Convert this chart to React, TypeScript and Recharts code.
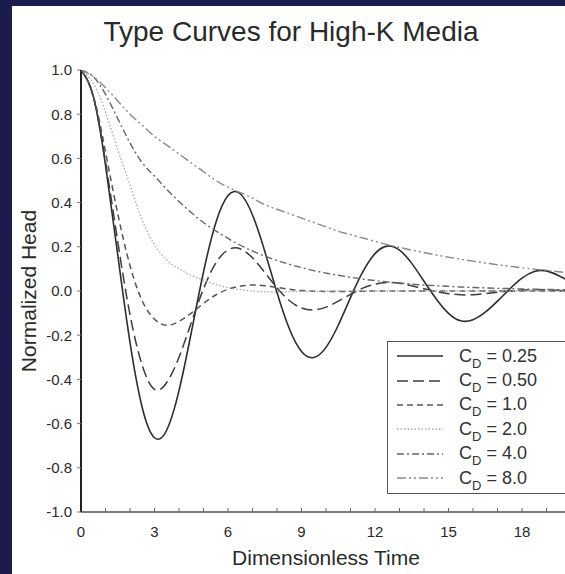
import { LineChart, Line, XAxis, YAxis, Legend } from 'recharts';

// dimensionless time, step 0.5
const time = [
  0, 0.5, 1, 1.5, 2, 2.5, 3, 3.5, 4, 4.5, 5, 5.5, 6, 6.5, 7, 7.5, 8, 8.5, 9, 9.5, 10,
  10.5, 11, 11.5, 12, 12.5, 13, 13.5, 14, 14.5, 15, 15.5, 16, 16.5, 17, 17.5, 18, 18.5, 19, 19.5, 20,
];

// normalized head, one list per C_D
const cd025 = [
  1.0, 0.881, 0.57, 0.163, -0.233, -0.528, -0.664, -0.629, -0.451, -0.189, 0.086, 0.308, 0.432, 0.44,
  0.344, 0.18, -0.007, -0.17, -0.274, -0.301, -0.255, -0.155, -0.03, 0.086, 0.169, 0.203, 0.185, 0.125,
  0.044, -0.036, -0.101, -0.135, -0.13, -0.096, -0.046, 0.009, 0.058, 0.088, 0.091, 0.069, 0.041,
];
const cd050 = [
  1.0, 0.88, 0.585, 0.223, -0.107, -0.337, -0.445, -0.414, -0.3, -0.144, 0.01, 0.126, 0.186, 0.191,
  0.15, 0.084, 0.014, -0.043, -0.077, -0.086, -0.073, -0.046, -0.015, 0.013, 0.031, 0.038, 0.035, 0.024,
  0.01, -0.002, -0.012, -0.017, -0.017, -0.012, -0.006, 0.0, 0.004, 0.006, 0.005, 0.003, 0.001,
];
const cd100 = [
  1.0, 0.885, 0.63, 0.35, 0.115, -0.045, -0.128, -0.155, -0.138, -0.1, -0.056, -0.018, 0.008, 0.022,
  0.027, 0.024, 0.016, 0.008, 0.002, -0.001, -0.002, -0.002, -0.002, -0.001, 0, 0, 0, 0,
  0, 0, 0, 0, 0, 0, 0, 0, 0, 0, 0, 0, 0,
];
const cd200 = [
  1.0, 0.94, 0.81, 0.64, 0.48, 0.32, 0.21, 0.14, 0.1, 0.07, 0.05, 0.03, 0.015, 0.006,
  0.0, -0.003, -0.004, -0.003, -0.002, -0.001, 0, 0, 0, 0, 0, 0, 0, 0,
  0, 0, 0, 0, 0, 0, 0, 0, 0, 0, 0, 0, 0,
];
const cd400 = [
  1.0, 0.97, 0.89, 0.78, 0.67, 0.58, 0.52, 0.46, 0.405, 0.355, 0.31, 0.272, 0.238, 0.207,
  0.181, 0.158, 0.138, 0.121, 0.106, 0.092, 0.081, 0.071, 0.062, 0.054, 0.047, 0.041, 0.036, 0.031,
  0.027, 0.024, 0.021, 0.018, 0.016, 0.014, 0.012, 0.011, 0.009, 0.008, 0.007, 0.006, 0.005,
];
const cd800 = [
  1.0, 0.97, 0.92, 0.86, 0.8, 0.75, 0.7, 0.66, 0.62, 0.58, 0.54, 0.5, 0.47, 0.445,
  0.42, 0.39, 0.37, 0.35, 0.33, 0.31, 0.29, 0.27, 0.255, 0.24, 0.225, 0.21, 0.197, 0.185,
  0.174, 0.163, 0.153, 0.144, 0.135, 0.127, 0.119, 0.112, 0.105, 0.099, 0.093, 0.087, 0.082,
];

const cdLabels = ['0.25', '0.50', '1.0', '2.0', '4.0', '8.0'];

const xTicks = [0, 3, 6, 9, 12, 15, 18];
const xMinorTicks = [0, 1, 2, 3, 4, 5, 6, 7, 8, 9, 10, 11, 12, 13, 14, 15, 16, 17, 18, 19, 20];
const yTicks = [-1.0, -0.8, -0.6, -0.4, -0.2, 0.0, 0.2, 0.4, 0.6, 0.8, 1.0];
const yMinorTicks = [
  -1.0, -0.9, -0.8, -0.7, -0.6, -0.5, -0.4, -0.3, -0.2, -0.1, 0.0,
  0.1, 0.2, 0.3, 0.4, 0.5, 0.6, 0.7, 0.8, 0.9, 1.0,
];

const data = time.map((t, i) => ({
  t,
  cd025: cd025[i],
  cd050: cd050[i],
  cd100: cd100[i],
  cd200: cd200[i],
  cd400: cd400[i],
  cd800: cd800[i],
}));

// line styles, in legend order
const series = [
  { key: 'cd025', label: cdLabels[0], stroke: '#2e2e2e', width: 1.6, dash: undefined },
  { key: 'cd050', label: cdLabels[1], stroke: '#3c3c3c', width: 1.5, dash: '11 5' },
  { key: 'cd100', label: cdLabels[2], stroke: '#555', width: 1.5, dash: '6 4' },
  { key: 'cd200', label: cdLabels[3], stroke: '#a8a8a8', width: 1.3, dash: '1.5 2' },
  { key: 'cd400', label: cdLabels[4], stroke: '#666', width: 1.4, dash: '7 3 2 3' },
  { key: 'cd800', label: cdLabels[5], stroke: '#8a8a8a', width: 1.4, dash: '9 3 2 3 2 3' },
];

const FONT = '"Liberation Sans", Arial, Helvetica, sans-serif';

function LegendBox() {
  return (
    <div
      style={{
        boxSizing: 'border-box',
        width: 200,
        height: 153,
        border: '1.5px solid #555',
        background: '#fff',
        padding: '2px 0 0 9px',
        fontFamily: FONT,
      }}
    >
      {series.map((s) => (
        <div key={s.key} style={{ display: 'flex', alignItems: 'center', height: 24.4 }}>
          <svg width={46} height={10}>
            <line x1={0} y1={5} x2={46} y2={5} stroke={s.stroke} strokeWidth={s.width} strokeDasharray={s.dash} />
          </svg>
          <span style={{ marginLeft: 16, fontSize: 18, color: '#333', whiteSpace: 'nowrap' }}>
            C<span style={{ fontSize: 13, position: 'relative', top: 6 }}>D</span> = {s.label}
          </span>
        </div>
      ))}
    </div>
  );
}

const noLabel = () => <g />;

export default function App() {
  return (
    <div
      style={{
        position: 'fixed',
        left: 0,
        top: 0,
        width: 565,
        height: 574,
        overflow: 'hidden',
        background: '#1c1b4d',
        fontFamily: FONT,
      }}
    >
      <div style={{ position: 'absolute', left: 12, top: 6, width: 553, height: 568, background: '#fff' }} />
      <div
        style={{
          position: 'absolute',
          left: 0,
          top: 18,
          width: 582,
          textAlign: 'center',
          fontSize: 28,
          lineHeight: '28px',
          color: '#2a2a2a',
        }}
      >
        Type Curves for High-K Media
      </div>
      <div style={{ position: 'absolute', left: 0, top: 0 }}>
        <LineChart width={600} height={574} data={data} margin={{ top: 70, right: 29, bottom: 2, left: 21 }}>
          <XAxis
            dataKey="t"
            type="number"
            domain={[0, 20]}
            ticks={xTicks}
            allowDataOverflow
            height={60}
            axisLine={{ stroke: '#555', strokeWidth: 1.5 }}
            tickLine={false}
            tickSize={6}
            tickMargin={8}
            tick={{ fill: '#2a2a2a', fontSize: 15 }}
            label={{ value: 'Dimensionless Time', position: 'insideBottom', offset: 7, fill: '#2a2a2a', fontSize: 21 }}
          />
          <XAxis
            xAxisId="minor"
            dataKey="t"
            type="number"
            domain={[0, 20]}
            ticks={xMinorTicks}
            mirror
            axisLine={false}
            tickSize={4}
            tickLine={{ stroke: '#666' }}
            tick={noLabel}
          />
          <YAxis
            type="number"
            domain={[-1, 1]}
            ticks={yTicks}
            allowDataOverflow
            width={60}
            axisLine={{ stroke: '#222', strokeWidth: 2 }}
            tickLine={{ stroke: '#777' }}
            tickSize={4}
            tickMargin={5}
            tickFormatter={(v) => v.toFixed(1)}
            tick={{ fill: '#2a2a2a', fontSize: 15 }}
            label={{
              value: 'Normalized Head',
              angle: -90,
              position: 'insideLeft',
              offset: 8,
              fill: '#2a2a2a',
              fontSize: 21,
              style: { textAnchor: 'middle' },
            }}
          />
          <YAxis
            yAxisId="minor"
            type="number"
            domain={[-1, 1]}
            ticks={yMinorTicks}
            mirror
            axisLine={false}
            tickSize={3}
            tickLine={{ stroke: '#444' }}
            tick={noLabel}
          />
          {series.map((s) => (
            <Line
              key={s.key}
              type="natural"
              dataKey={s.key}
              stroke={s.stroke}
              strokeWidth={s.width}
              strokeDasharray={s.dash}
              dot={false}
              activeDot={false}
              isAnimationActive={false}
            />
          ))}
          <Legend
            layout="vertical"
            align="center"
            verticalAlign="middle"
            content={() => <LegendBox />}
            wrapperStyle={{ left: 387, top: 341, width: 200, height: 153 }}
          />
        </LineChart>
      </div>
    </div>
  );
}
